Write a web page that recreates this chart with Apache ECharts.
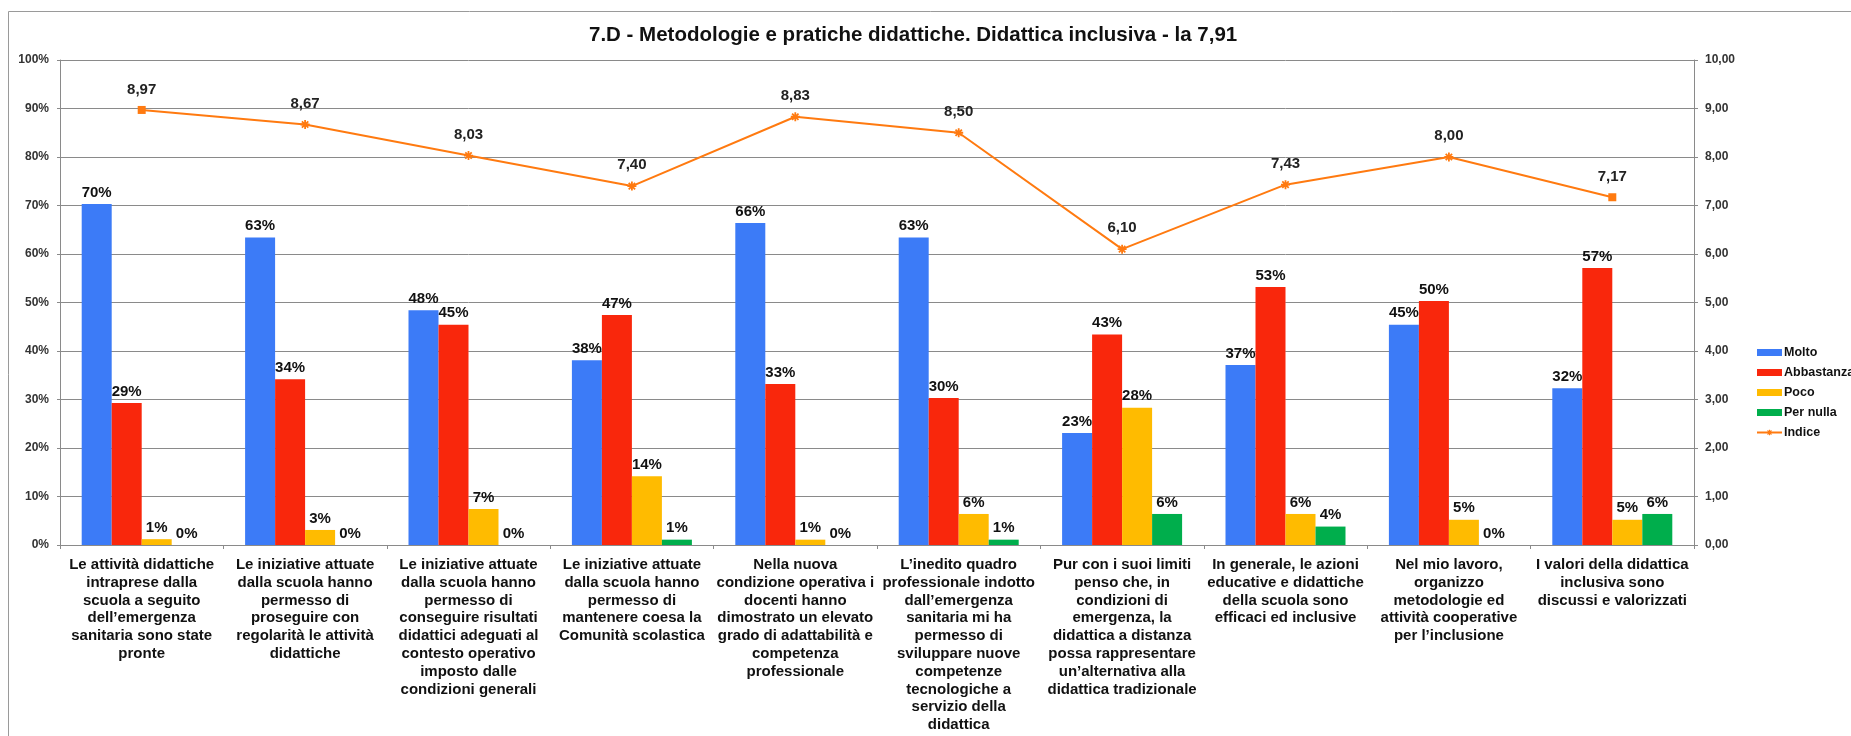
<!DOCTYPE html>
<html>
<head>
<meta charset="utf-8">
<script src="https://cdn.jsdelivr.net/npm/echarts@6/dist/echarts.min.js"></script>
<style>
  html, body { margin: 0; padding: 0; background: #fff; }
  #chart { width: 1851px; height: 736px; }
</style>
</head>
<body>
<div id="chart"></div>
<script>
// categorie (a capo come nel grafico originale)
const categories = [
  'Le attività didattiche\nintraprese dalla\nscuola a seguito\ndell\u2019emergenza\nsanitaria sono state\npronte',
  'Le iniziative attuate\ndalla scuola hanno\npermesso di\nproseguire con\nregolarità le attività\ndidattiche',
  'Le iniziative attuate\ndalla scuola hanno\npermesso di\nconseguire risultati\ndidattici adeguati al\ncontesto operativo\nimposto dalle\ncondizioni generali',
  'Le iniziative attuate\ndalla scuola hanno\npermesso di\nmantenere coesa la\nComunità scolastica',
  'Nella nuova\ncondizione operativa i\ndocenti hanno\ndimostrato un elevato\ngrado di adattabilità e\ncompetenza\nprofessionale',
  'L\u2019inedito quadro\nprofessionale indotto\ndall\u2019emergenza\nsanitaria mi ha\npermesso di\nsviluppare nuove\ncompetenze\ntecnologiche a\nservizio della\ndidattica',
  'Pur con i suoi limiti\npenso che, in\ncondizioni di\nemergenza, la\ndidattica a distanza\npossa rappresentare\nun\u2019alternativa alla\ndidattica tradizionale',
  'In generale, le azioni\neducative e didattiche\ndella scuola sono\nefficaci ed inclusive',
  'Nel mio lavoro,\norganizzo\nmetodologie ed\nattività cooperative\nper l\u2019inclusione',
  'I valori della didattica\ninclusiva sono\ndiscussi e valorizzati'
]

// percentuali (asse sx)
const molto      = [70.3, 63.4, 48.4, 38.1, 66.4, 63.4, 23.1, 37.1, 45.4, 32.3]
const abbastanza = [29.3, 34.2, 45.4, 47.4, 33.2, 30.3, 43.4, 53.2, 50.3, 57.1]
const poco       = [1.2, 3.1, 7.4, 14.2, 1.1, 6.4, 28.3, 6.4, 5.2, 5.2]
const perNulla   = [0, 0, 0, 1.1, 0, 1.1, 6.4, 3.8, 0, 6.4]

// indice (asse dx)
const indice = [8.97, 8.67, 8.03, 7.40, 8.83, 8.50, 6.10, 7.43, 8.00, 7.17]

const titolo = '7.D - Metodologie e pratiche didattiche. Didattica inclusiva - la 7,91'

const FONT = '"Liberation Sans", Arial, sans-serif'
const asterisco = 'path://M3.2,0h1.6v8h-1.6z M0,3.2h8v1.6h-8z M0.6,1.7l1.1-1.1l5.7,5.7l-1.1,1.1z M6.3,0.6l1.1,1.1l-5.7,5.7l-1.1-1.1z'

const chart = echarts.init(document.getElementById('chart'))

function barSeries(name, data, color) {
  return {
    name: name,
    type: 'bar',
    data: data,
    barWidth: 30,
    barGap: '0%',
    itemStyle: { color: color },
    label: {
      show: true,
      position: 'top',
      distance: 4,
      formatter: p => Math.round(p.value) + '%',
      fontFamily: FONT,
      fontWeight: 'bold',
      fontSize: 15,
      color: '#111'
    }
  }
}

chart.setOption({
  animation: false,
  textStyle: { fontFamily: FONT },
  title: {
    text: titolo,
    left: 584,
    top: 20,
    textStyle: { fontFamily: FONT, fontSize: 20.5, fontWeight: 'bold', color: '#111' }
  },
  graphic: [{
    type: 'rect',
    shape: { x: 8.5, y: 11.5, width: 1900, height: 800 },
    style: { fill: 'none', stroke: '#9a9a9a', lineWidth: 1 },
    silent: true
  }],
  legend: {
    orient: 'vertical',
    left: 1751,
    top: 341,
    itemWidth: 25,
    itemHeight: 7,
    itemGap: 7,
    textStyle: { fontFamily: FONT, fontSize: 12.5, fontWeight: 'bold', color: '#111', padding: [0, 0, 0, -3] },
    data: [
      { name: 'Molto', icon: 'rect' },
      { name: 'Abbastanza', icon: 'rect' },
      { name: 'Poco', icon: 'rect' },
      { name: 'Per nulla', icon: 'rect' },
      { name: 'Indice' }
    ]
  },
  grid: { left: 60, right: 157, top: 60, bottom: 191 },
  xAxis: {
    type: 'category',
    data: categories,
    axisLine: { lineStyle: { color: '#8a8a8a' } },
    axisTick: { show: true, length: 4, lineStyle: { color: '#8a8a8a' } },
    axisLabel: {
      interval: 0,
      margin: 11,
      fontFamily: FONT,
      fontWeight: 'bold',
      fontSize: 15,
      lineHeight: 17.8,
      color: '#111'
    }
  },
  yAxis: [
    {
      type: 'value',
      min: 0,
      max: 100,
      interval: 10,
      axisLine: { show: true, lineStyle: { color: '#8a8a8a' } },
      axisTick: { show: true, length: 3, lineStyle: { color: '#8a8a8a' } },
      splitLine: { lineStyle: { color: '#8a8a8a', width: 1 } },
      axisLabel: {
        margin: 11,
        formatter: v => v + '%',
        fontFamily: FONT,
        fontWeight: 'bold',
        fontSize: 12,
        color: '#333'
      }
    },
    {
      type: 'value',
      min: 0,
      max: 10,
      interval: 1,
      position: 'right',
      axisLine: { show: true, lineStyle: { color: '#8a8a8a' } },
      axisTick: { show: true, length: 4, lineStyle: { color: '#8a8a8a' } },
      splitLine: { show: false },
      axisLabel: {
        margin: 11,
        formatter: v => v.toFixed(2).replace('.', ','),
        fontFamily: FONT,
        fontWeight: 'bold',
        fontSize: 12,
        color: '#333'
      }
    }
  ],
  series: [
    barSeries('Molto', molto, '#3c7bf7'),
    barSeries('Abbastanza', abbastanza, '#f9270c'),
    barSeries('Poco', poco, '#ffbb00'),
    barSeries('Per nulla', perNulla, '#00ae4c'),
    {
      name: 'Indice',
      type: 'line',
      yAxisIndex: 1,
      data: indice.map((v, i) => ({
        value: v,
        symbol: (i === 0 || i === indice.length - 1) ? 'rect' : asterisco,
        symbolSize: (i === 0 || i === indice.length - 1) ? 8 : 9
      })),
      symbol: asterisco,
      showAllSymbol: true,
      lineStyle: { color: '#ff7a10', width: 2 },
      itemStyle: { color: '#ff7a10' },
      label: {
        show: true,
        position: 'top',
        distance: 9,
        formatter: p => p.value.toFixed(2).replace('.', ','),
        fontFamily: FONT,
        fontSize: 15,
        fontWeight: 'bold',
        color: '#222'
      },
      z: 5
    }
  ]
})
</script>
</body>
</html>
